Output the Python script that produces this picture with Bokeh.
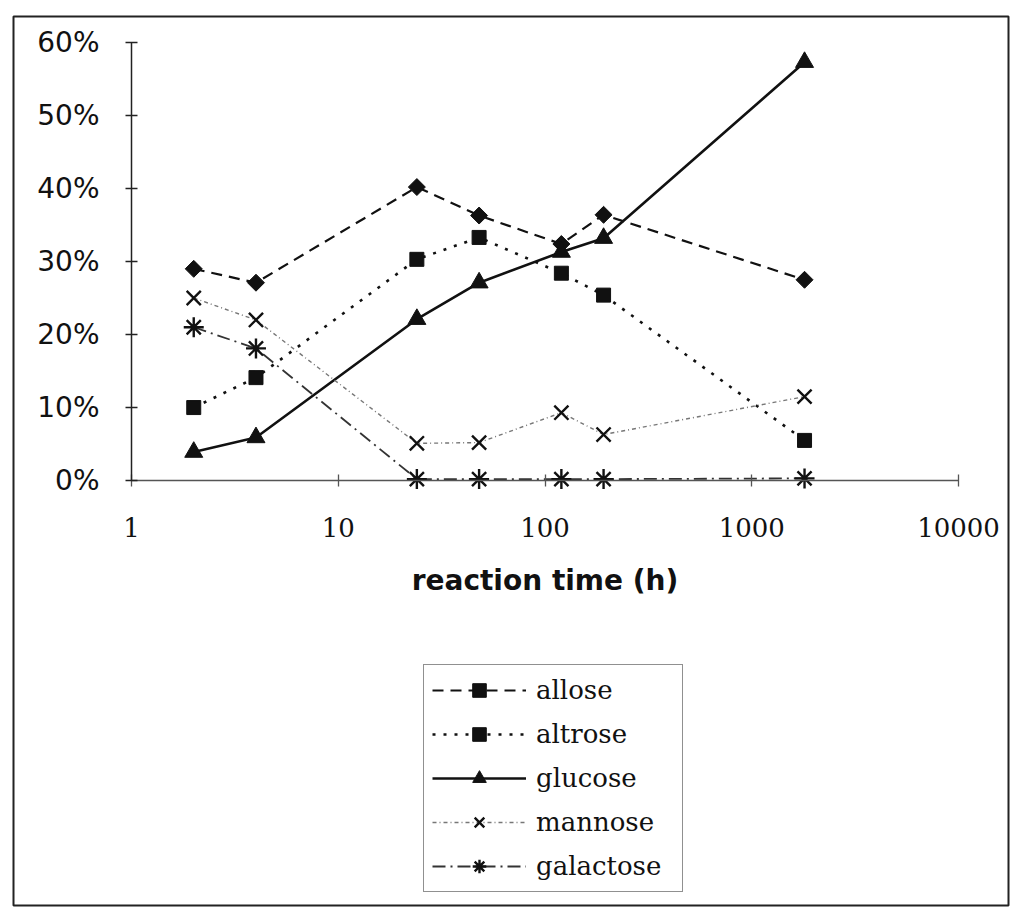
from bokeh.plotting import figure
from bokeh.models import Range1d, FixedTicker, PrintfTickFormatter, Legend, LegendItem, Spacer
from bokeh.layouts import row, column
from bokeh.embed import file_html
from bokeh.resources import INLINE
import math

# ---- data ----
times = [2, 4, 24, 48, 120, 192, 1800]
allose = [29.0, 27.1, 40.2, 36.3, 32.4, 36.4, 27.5]
altrose = [10.0, 14.1, 30.3, 33.3, 28.4, 25.4, 5.5]
glucose = [3.9, 5.9, 22.1, 27.1, 31.3, 33.2, 57.3]
mannose = [25.0, 22.0, 5.1, 5.2, 9.3, 6.3, 11.5]
galactose = [21.0, 18.1, 0.2, 0.2, 0.2, 0.2, 0.3]
x_ticks = [1, 10, 100, 1000, 10000]
y_ticks = [0, 10, 20, 30, 40, 50, 60]

# The frame is the outer box of the picture; axes are placed inside it.
p = figure(width=1007, height=903, x_axis_type="log",
           x_range=Range1d(0.2687, 17450), y_range=Range1d(-58.2, 63.56),
           output_backend="svg", toolbar_location=None,
           min_border_left=6, min_border_right=6,
           min_border_top=8, min_border_bottom=6)
p.outline_line_color = "#222"
p.outline_line_width = 2
p.grid.visible = False
p.background_fill_color = "white"
p.border_fill_color = "white"

# axes
xa = p.xaxis[0]
xa.fixed_location = 0
xa.bounds = (1, 10000)
xa.ticker = FixedTicker(ticks=x_ticks)
xa.formatter = PrintfTickFormatter(format="%d")
xa.minor_tick_line_color = None
xa.major_tick_in = 6
xa.major_tick_out = 6
xa.axis_line_color = "#555"
xa.axis_line_width = 1.6
xa.major_tick_line_color = "#555"
xa.major_tick_line_width = 1.3
xa.major_label_text_font = "DejaVu Serif"
xa.major_label_text_font_size = "26px"
xa.major_label_text_color = "#111"
xa.major_label_standoff = 31
xa.axis_label = "reaction time (h)"
xa.axis_label_text_font = "DejaVu Sans"
xa.axis_label_text_font_style = "bold"
xa.axis_label_text_font_size = "28px"
xa.axis_label_text_color = "#111"
xa.axis_label_standoff = 24

ya = p.yaxis[0]
ya.fixed_location = 1
ya.bounds = (0, 60)
ya.ticker = FixedTicker(ticks=y_ticks)
ya.formatter = PrintfTickFormatter(format="%d%%")
ya.minor_tick_line_color = None
ya.major_tick_in = 6
ya.major_tick_out = 6
ya.axis_line_color = "#222"
ya.axis_line_width = 1.5
ya.major_tick_line_color = "#222"
ya.major_tick_line_width = 1.5
ya.major_label_text_font = "DejaVu Sans"
ya.major_label_text_font_size = "28px"
ya.major_label_text_color = "#111"
ya.major_label_standoff = 26

# series
r1l = p.line(times, allose, line_color="#111", line_width=2.2, line_dash="11 7")
r1m = p.scatter(times, allose, marker="square", size=12, angle=math.pi / 4,
                fill_color="#111", line_color="#111")
r2l = p.line(times, altrose, line_color="#111", line_width=2.6, line_dash="3 8")
r2m = p.scatter(times, altrose, marker="square", size=14,
                fill_color="#111", line_color="#111")
r3l = p.line(times, glucose, line_color="#111", line_width=2.6)
r3m = p.scatter(times, glucose, marker="triangle", size=18,
                fill_color="#111", line_color="#111")
r4l = p.line(times, mannose, line_color="#777", line_width=1.4, line_dash="4 3 1 3")
r4m = p.scatter(times, mannose, marker="x", size=20, line_color="#111", line_width=2.4)
r5l = p.line(times, galactose, line_color="#333", line_width=1.8, line_dash="13 5 2 5")
r5m = p.scatter(times, galactose, marker="asterisk", size=20, line_color="#111", line_width=2.4)

legend = Legend(items=[
    LegendItem(label="allose", renderers=[r1l, r1m]),
    LegendItem(label="altrose", renderers=[r2l, r2m]),
    LegendItem(label="glucose", renderers=[r3l, r3m]),
    LegendItem(label="mannose", renderers=[r4l, r4m]),
    LegendItem(label="galactose", renderers=[r5l, r5m]),
], location=(410, 13))
legend.glyph_width = 94
legend.glyph_height = 34
legend.spacing = 10
legend.padding = 8
legend.label_standoff = 10
legend.label_width = 138
legend.label_text_font = "DejaVu Serif"
legend.label_text_font_size = "26px"
legend.label_text_color = "#111"
legend.border_line_color = "#222"
legend.border_line_width = 1.5
legend.background_fill_color = "white"
legend.background_fill_alpha = 1
legend.margin = 0
p.add_layout(legend, "center")

layout = row(Spacer(width=7), column(Spacer(height=8), p))
open("out.html", "w").write(file_html(layout, INLINE))
